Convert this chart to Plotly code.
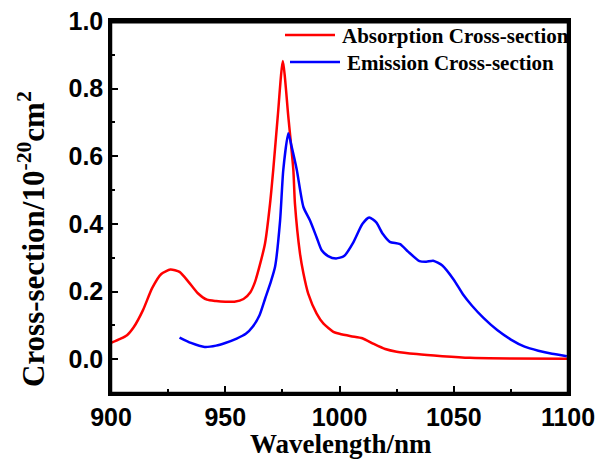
import plotly.graph_objects as go

# Absorption cross-section (x10^-20 cm^2)
abs_wl = [900, 904, 907, 910, 914, 918, 922, 926, 930, 934, 938, 942, 946, 950, 954,
          958, 961, 963, 965, 967.4, 969.6, 971, 973, 975.2, 977.6, 979.8, 980.5,
          982.7, 984.2, 986.3, 990, 993, 997.3, 1000, 1005, 1010, 1015, 1020, 1025,
          1033.8, 1045, 1057, 1075, 1100]
abs_val = [0.048, 0.060, 0.071, 0.095, 0.145, 0.210, 0.252, 0.265, 0.258, 0.228, 0.195,
           0.176, 0.172, 0.170, 0.170, 0.178, 0.198, 0.228, 0.275, 0.342, 0.46, 0.56,
           0.72, 0.882, 0.717, 0.56, 0.46, 0.313, 0.254, 0.194, 0.135, 0.105, 0.081,
           0.075, 0.068, 0.062, 0.045, 0.030, 0.022, 0.015, 0.009, 0.004, 0.002, 0.001]

# Emission cross-section (x10^-20 cm^2)
em_wl = [930, 935, 941, 946, 950, 955, 959, 962, 965, 967.4, 970, 971.8, 974, 975.4,
         977.6, 979, 981.3, 984.2, 987.1, 990, 992.2, 995, 998.5, 1002, 1006, 1010,
         1013, 1016, 1019, 1022, 1026.5, 1030, 1035, 1038, 1041, 1045, 1050, 1054,
         1058, 1063, 1069, 1075, 1081, 1087, 1093, 1099.5]
em_val = [0.064, 0.048, 0.036, 0.040, 0.048, 0.061, 0.075, 0.096, 0.130, 0.178, 0.230,
          0.273, 0.41, 0.56, 0.668, 0.63, 0.56, 0.45, 0.41, 0.36, 0.322, 0.305, 0.298,
          0.305, 0.345, 0.400, 0.419, 0.405, 0.370, 0.347, 0.340, 0.318, 0.290, 0.288,
          0.291, 0.277, 0.235, 0.192, 0.158, 0.122, 0.086, 0.058, 0.037, 0.025, 0.016,
          0.009]

series_names = ["Absorption Cross-section", "Emission Cross-section"]
colors = ["#ff0000", "#0000ff"]

x_ticks = [900, 950, 1000, 1050, 1100]
y_ticks = [0.0, 0.2, 0.4, 0.6, 0.8, 1.0]

W, H = 598, 466
L, T, R, B = 111, 21, 30, 73
pw, ph = W - L - R, H - T - B

def px(page_x):
    return (page_x - L) / pw

def py(page_y):
    return (H - B - page_y) / ph

fig = go.Figure()
fig.add_trace(go.Scatter(x=abs_wl, y=abs_val, mode="lines", name=series_names[0],
                         line=dict(color=colors[0], width=2.5, shape="spline", smoothing=0.6)))
fig.add_trace(go.Scatter(x=em_wl, y=em_val, mode="lines", name=series_names[1],
                         line=dict(color=colors[1], width=2.5, shape="spline", smoothing=0.6)))

tickfont = dict(family="Liberation Sans, Arial", size=25, color="black", weight="bold")
axis_common = dict(showline=True, linewidth=2.5, linecolor="black", mirror=True,
                   ticks="inside", ticklen=7, tickwidth=2, tickcolor="black",
                   showgrid=False, zeroline=False, tickfont=tickfont)

fig.update_xaxes(range=[900, 1100], tickvals=x_ticks, ticktext=[str(v) for v in x_ticks],
                 minor=dict(ticks="inside", ticklen=4, tickwidth=2, tickcolor="black", dtick=25,
                            tick0=900, showgrid=False),
                 **axis_common)
fig.update_yaxes(range=[-0.1, 1.0], tickvals=y_ticks, ticktext=[f"{v:.1f}" for v in y_ticks],
                 minor=dict(ticks="inside", ticklen=4, tickwidth=2, tickcolor="black", dtick=0.1,
                            tick0=0, showgrid=False),
                 **axis_common)

serif = dict(family="Liberation Serif, Times New Roman", color="black", weight="bold")

annotations = [
    dict(text="Wavelength/nm", xref="paper", yref="paper", x=px(341), y=py(444),
         xanchor="center", yanchor="middle", showarrow=False, font=dict(size=27, **serif)),
    dict(text="Cross-section/10<sup>-20</sup>cm<sup>2</sup>", xref="paper", yref="paper",
         x=px(32), y=py(239), xanchor="center", yanchor="middle", textangle=-90,
         showarrow=False, font=dict(size=31, **serif)),
    dict(text=series_names[0], xref="paper", yref="paper", x=px(340), y=py(36),
         xanchor="left", yanchor="middle", showarrow=False, font=dict(size=21, **serif)),
    dict(text=series_names[1], xref="paper", yref="paper", x=px(345), y=py(63),
         xanchor="left", yanchor="middle", showarrow=False, font=dict(size=21, **serif)),
]

shapes = [
    dict(type="rect", xref="paper", yref="paper", x0=0, x1=1, y0=0, y1=1,
         line=dict(color="black", width=2.5), fillcolor="rgba(0,0,0,0)", layer="above"),
    dict(type="line", xref="paper", yref="paper", x0=0, x1=1, y0=py(21.5), y1=py(21.5),
         line=dict(color="#000000", width=4), layer="above"),
    dict(type="line", xref="paper", yref="paper", x0=px(285), x1=px(335), y0=py(35), y1=py(35),
         line=dict(color=colors[0], width=2.5)),
    dict(type="line", xref="paper", yref="paper", x0=px(290), x1=px(340), y0=py(62), y1=py(62),
         line=dict(color=colors[1], width=2.5)),
]

fig.update_layout(width=W, height=H, margin=dict(l=L, r=R, t=T, b=B, autoexpand=False),
                  plot_bgcolor="white", paper_bgcolor="white", showlegend=False,
                  annotations=annotations, shapes=shapes)

fig.write_html("out.html", config={"displayModeBar": False},
               post_script="document.body.style.margin='0';document.body.style.overflow='hidden';")
